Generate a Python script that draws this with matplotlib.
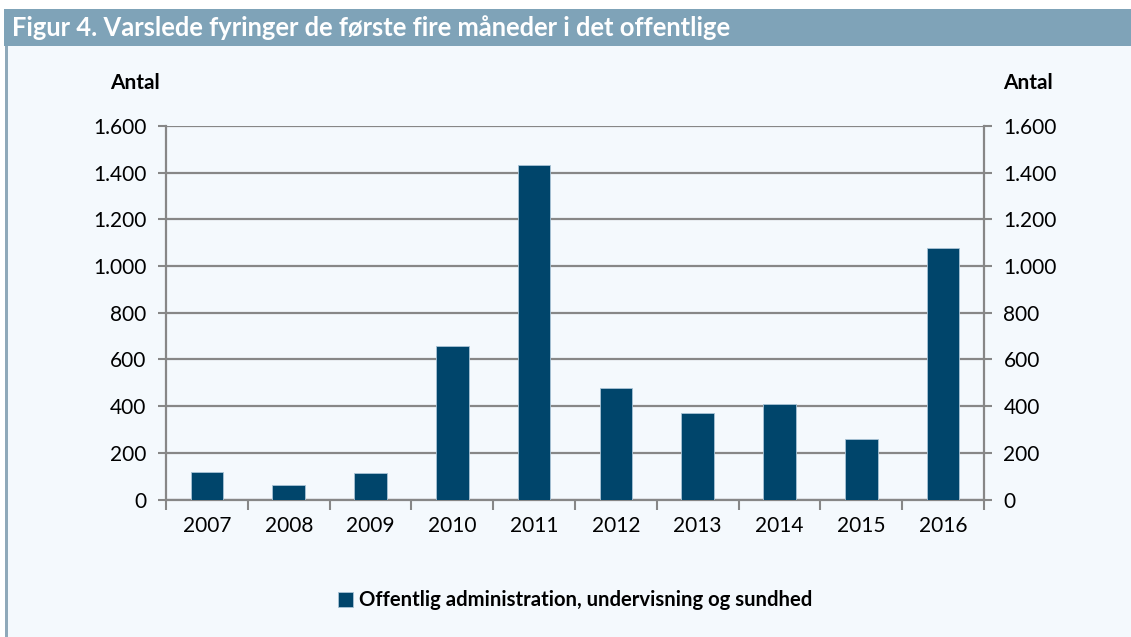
import matplotlib.pyplot as plt
from matplotlib.patches import Rectangle
from matplotlib.ticker import FuncFormatter

plt.rcParams['font.family'] = ['Lato', 'DejaVu Sans']

years = ['2007', '2008', '2009', '2010', '2011', '2012', '2013', '2014', '2015', '2016']
fyringer = [117, 61, 113, 658, 1434, 478, 370, 410, 261, 1078]
series_name = 'Offentlig administration, undervisning og sundhed'
title = 'Figur 4. Varslede fyringer de første fire måneder i det offentlige'

bg = '#F4F9FD'
bar_color = '#00456B'
grid_color = '#878787'

fig = plt.figure(figsize=(11.31, 6.37), dpi=100)
fig.patch.set_facecolor('white')

# panel background, title bar and left border
fig.patches.append(Rectangle((6 / 1131, 0), 1 - 6 / 1131, 1 - 46 / 637,
                             transform=fig.transFigure, facecolor=bg, edgecolor='none', zorder=-2))
fig.patches.append(Rectangle((5 / 1131, 0), 3 / 1131, 1 - 46 / 637,
                             transform=fig.transFigure, facecolor='#8FA9BA', edgecolor='none', zorder=-1))
fig.patches.append(Rectangle((4 / 1131, 1 - 46 / 637), 1, 37 / 637,
                             transform=fig.transFigure, facecolor='#7FA3B8', edgecolor='none', zorder=-1))
fig.text(12 / 1131, 1 - 28 / 637, title, color='white', fontsize=18.4, fontweight='bold',
         va='center', ha='left')

ax = fig.add_axes([166 / 1131, 1 - 499.5 / 637, (984 - 166) / 1131, (499.5 - 126) / 637])
ax.set_zorder(2)
ax.set_facecolor(bg)

x = range(len(years))
ax.bar(x, fyringer, width=0.4, color=bar_color, edgecolor='#A9C4D6', linewidth=0.6,
       zorder=3, label=series_name)

ax.set_xlim(-0.5, len(years) - 0.5)
ax.set_ylim(0, 1600)
ax.set_yticks(range(0, 1601, 200))
ax.yaxis.set_major_formatter(FuncFormatter(lambda v, p: f'{int(v):,}'.replace(',', '.')))
ax.set_xticks(list(x))
ax.set_xticklabels(years)
ax.set_xticks([i + 0.5 for i in range(-1, len(years))], minor=True)
ax.grid(axis='y', color=grid_color, linewidth=1.6, zorder=0)

for s in ['left', 'right', 'bottom']:
    ax.spines[s].set_color(grid_color)
    ax.spines[s].set_linewidth(1.6)
ax.spines['top'].set_visible(False)

ax.tick_params(axis='y', which='major', direction='out', length=6, width=1.5, color=grid_color,
               labelsize=15, pad=8, left=True, right=True, labelleft=True, labelright=True)
ax.tick_params(axis='x', which='major', length=0, labelsize=15, pad=12)
ax.tick_params(axis='x', which='minor', direction='out', length=7, width=1.5, color=grid_color)

fig.text(135 / 1131, 1 - 83 / 637, 'Antal', fontsize=15, fontweight='bold', ha='center', va='center')
fig.text(1028 / 1131, 1 - 83 / 637, 'Antal', fontsize=15, fontweight='bold', ha='center', va='center')

leg = ax.legend(loc='center', bbox_to_anchor=(0.5, -0.27), frameon=False, fontsize=14.6,
                handlelength=0.75, handleheight=0.75, handletextpad=0.25)
for t in leg.get_texts():
    t.set_fontweight('bold')

fig.savefig('out.png', dpi=100, facecolor=fig.get_facecolor())
